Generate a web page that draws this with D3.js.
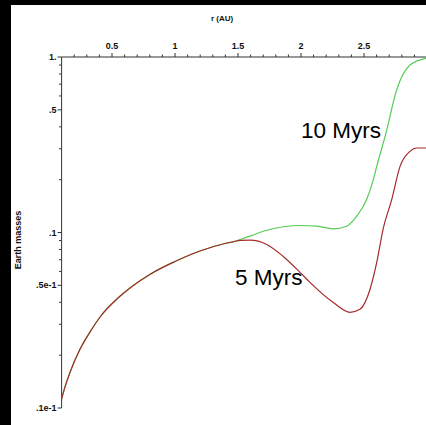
<!DOCTYPE html>
<html><head><meta charset="utf-8">
<script src="https://cdn.jsdelivr.net/npm/d3@7"></script>
<style>html,body{margin:0;padding:0;background:#000;}svg{display:block;}</style>
</head><body>
<script>
// Data
const sharedR = [0.1, 0.13, 0.167, 0.246, 0.339, 0.405, 0.563, 0.80, 1.0, 1.198, 1.397, 1.46];
const sharedM = [0.01125, 0.0134, 0.0160, 0.0216, 0.0281, 0.0330, 0.0433, 0.0577, 0.0684, 0.0785, 0.0866, 0.0885];
const r5 = [1.52, 1.595, 1.728, 1.857, 1.992, 2.071, 2.254, 2.389, 2.468, 2.548, 2.601, 2.651, 2.72, 2.786, 2.865, 2.918, 2.992];
const m5 = [0.0902, 0.0904, 0.0855, 0.0733, 0.0593, 0.0520, 0.0400, 0.0351, 0.0365, 0.0475, 0.0676, 0.104, 0.154, 0.238, 0.290, 0.303, 0.303];
const r10 = [1.52, 1.595, 1.728, 1.992, 2.125, 2.256, 2.363, 2.442, 2.521, 2.574, 2.601, 2.675, 2.759, 2.865, 2.992];
const m10 = [0.0915, 0.0953, 0.103, 0.1096, 0.1086, 0.105, 0.1086, 0.1238, 0.154, 0.200, 0.238, 0.370, 0.649, 0.900, 0.983];
const xMajor = [0.5, 1, 1.5, 2, 2.5];
const xMajorLabels = ["0.5", "1", "1.5", "2", "2.5"];
const yMajor = [1, 0.5, 0.1, 0.05, 0.01];
const yMajorLabels = ["1.", ".5", ".1", ".5e-1", ".1e-1"];
const seriesNames = ["5 Myrs", "10 Myrs"];

const W = 426, H = 425;
const svg = d3.select("body").append("svg").attr("width", W).attr("height", H);
svg.append("rect").attr("width", W).attr("height", H).attr("fill", "#000");
svg.append("rect").attr("x", 11).attr("y", 5).attr("width", W - 11).attr("height", H - 5).attr("fill", "#fff");

const x = d3.scaleLinear().domain([0.1, 3]).range([61.6, 427]);
const y = d3.scaleLog().domain([0.01, 1]).range([408, 57]);

const axisColor = "#333";
const g = svg.append("g");

// top axis
g.append("line").attr("x1", x(0.1)).attr("x2", W).attr("y1", y(1)).attr("y2", y(1)).attr("stroke", axisColor).attr("stroke-width", 1);
const xMinor = d3.range(2, 30).map(d => d / 10);
g.selectAll(".xt").data(xMinor).join("line")
  .attr("x1", d => x(d)).attr("x2", d => x(d))
  .attr("y1", y(1)).attr("y2", d => y(1) - (xMajor.some(v => Math.abs(v - d) < 1e-9) ? 4 : 2.5))
  .attr("stroke", axisColor).attr("stroke-width", 1);
g.selectAll(".xl").data(xMajor).join("text")
  .attr("x", d => x(d)).attr("y", y(1) - 8)
  .attr("text-anchor", "middle")
  .attr("font-family", "Liberation Sans, Arial, sans-serif").attr("font-weight", "bold").attr("font-size", 9)
  .attr("fill", "#111")
  .text((d, i) => xMajorLabels[i]);
g.append("text").attr("x", 222).attr("y", 21).attr("text-anchor", "middle")
  .attr("font-family", "Liberation Sans, Arial, sans-serif").attr("font-weight", "bold").attr("font-size", 8)
  .attr("fill", "#111").text("r (AU)");

// left axis
g.append("line").attr("x1", x(0.1)).attr("x2", x(0.1)).attr("y1", y(1)).attr("y2", y(0.01)).attr("stroke", axisColor).attr("stroke-width", 1);
const yMinor = [];
[0.01, 0.1].forEach(dec => { for (let k = 1; k <= 9; k++) yMinor.push(dec * k); });
yMinor.push(1);
g.selectAll(".yt").data(yMinor).join("line")
  .attr("x1", x(0.1)).attr("x2", d => x(0.1) - (yMajor.some(v => Math.abs(v - d) / v < 1e-6) ? 4 : 2.5))
  .attr("y1", d => y(d)).attr("y2", d => y(d))
  .attr("stroke", axisColor).attr("stroke-width", 1);
g.selectAll(".yl").data(yMajor).join("text")
  .attr("x", x(0.1) - 5).attr("y", d => y(d) + 3)
  .attr("text-anchor", "end")
  .attr("font-family", "Liberation Sans, Arial, sans-serif").attr("font-weight", "bold").attr("font-size", 9)
  .attr("fill", "#111")
  .text((d, i) => yMajorLabels[i]);
g.append("text").attr("transform", "translate(21,240) rotate(-90)").attr("text-anchor", "middle")
  .attr("font-family", "Liberation Sans, Arial, sans-serif").attr("font-weight", "bold").attr("font-size", 9)
  .attr("fill", "#111").text("Earth masses");

// curves
const line = d3.line().x(d => x(d[0])).y(d => y(d[1])).curve(d3.curveMonotoneX);
const shared = sharedR.map((r, i) => [r, sharedM[i]]);
const s5 = shared.concat(r5.map((r, i) => [r, m5[i]]));
const s10 = shared.concat(r10.map((r, i) => [r, m10[i]]));
svg.append("path").attr("d", line(s10)).attr("fill", "none").attr("stroke", "#55cc55").attr("stroke-width", 1.2);
svg.append("path").attr("d", line(s5)).attr("fill", "none").attr("stroke", "#a52a2a").attr("stroke-width", 1.2);

// series labels
svg.append("text").attr("x", 301).attr("y", 137.5)
  .attr("font-family", "Liberation Sans, Arial, sans-serif").attr("font-size", 22.5).attr("fill", "#000").text(seriesNames[1]);
svg.append("text").attr("x", 235).attr("y", 285)
  .attr("font-family", "Liberation Sans, Arial, sans-serif").attr("font-size", 22.5).attr("fill", "#000").text(seriesNames[0]);
</script>
</body></html>
